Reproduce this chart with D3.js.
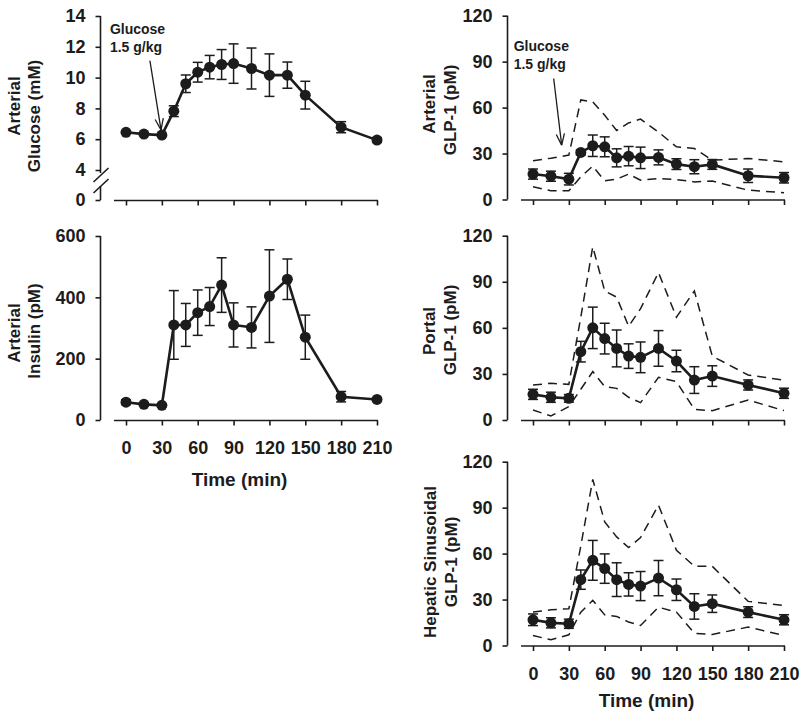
<html>
<title>Glucose, insulin and GLP-1</title>
<script src="https://d3js.org/d3.v7.min.js"></script>
<style>
	body { margin: 0; background: #fff; }
	text { font-family: "Liberation Sans", Arial, Helvetica, sans-serif; font-weight: bold; fill: #1c1c1c; }
	.tick text { font-size: 18px; }
	.tick line, .axisline { stroke: #1c1c1c; stroke-width: 1.6; }
	.mean { fill: none; stroke: #1c1c1c; stroke-width: 2.6; }
	.band { fill: none; stroke: #1c1c1c; stroke-width: 1.5; stroke-dasharray: 9,6; }
	.err { stroke: #1c1c1c; stroke-width: 1.5; }
	.dot { fill: #1c1c1c; }
</style>
<body>
<svg id="container" width=800 height=714></svg>
<script>
// sampling times (min)
var times = [0, 15, 30, 40, 50, 60, 70, 80, 90, 105, 120, 135, 150, 180, 210];
var xTicks = [0, 30, 60, 90, 120, 150, 180, 210];

// arterial glucose (mM)
var glucoseMean = [6.45, 6.33, 6.27, 7.82, 9.6, 10.35, 10.68, 10.85, 10.91, 10.59, 10.16, 10.16, 8.86, 6.78, 5.94];
var glucoseErr  = [0.1, 0.08, 0.08, 0.35, 0.57, 0.64, 0.76, 0.97, 1.28, 1.33, 1.38, 0.85, 0.9, 0.36, 0.15];

// arterial insulin (pM)
var insulinMean = [58, 51, 48, 310, 310, 350, 370, 440, 310, 302, 404, 459, 270, 76, 67];
var insulinErr  = [8, 5, 5, 112, 70, 74, 62, 89, 72, 67, 151, 66, 72, 17, 5];

// arterial GLP-1 (pM)
var artMean = [16.6, 15.2, 13.3, 30.7, 35.1, 34.4, 27.2, 28.3, 27.2, 27.5, 23.1, 21.4, 22.9, 15.5, 14.2];
var artErr  = [3.3, 3.3, 3.8, 1.6, 7, 6.5, 5.9, 6.3, 7, 4.9, 3.5, 4.6, 3.2, 4.4, 3.4];
var artHi   = [25.3, 27, 29, 65, 63.8, 55, 45, 50, 52.5, 44, 34.4, 33.3, 25.7, 26.8, 24.6];
var artLo   = [8.3, 5.7, 5.7, 14.8, 21.8, 12.2, 13.3, 16.6, 12.6, 13.7, 13, 11.5, 12, 6.1, 4.4];

// portal GLP-1 (pM)
var portMean = [16.7, 14.8, 14.1, 44.5, 60, 53, 46.6, 41.6, 40.8, 46.6, 38.4, 26, 28.6, 22.8, 17.4];
var portErr  = [3.3, 3.3, 2.5, 6.7, 13.5, 10, 12, 8, 10, 11.6, 7, 8.7, 6.7, 3.3, 3.3];
var portHi   = [22.8, 23.9, 23.2, 67, 112.8, 84, 80, 61, 72.5, 96, 67, 84, 41.6, 29.3, 26];
var portLo   = [6.5, 2.6, 8.7, 20, 31.5, 21.7, 20.6, 14.8, 11.3, 27.8, 25, 6.9, 6.1, 13, 6.1];

// hepatic sinusoidal GLP-1 (pM)
var hepMean = [16.8, 14.8, 14.2, 43, 55.6, 50.2, 43, 39.9, 38.8, 44, 36.4, 25.5, 27.3, 21.8, 16.8];
var hepErr  = [3.8, 3.3, 3, 6.3, 13, 9.6, 11, 7.6, 9.5, 11.5, 7, 8.3, 5.7, 3.5, 3.3];
var hepHi   = [21.8, 23.3, 24, 65, 108.4, 80.7, 70.9, 63.9, 70.5, 91.6, 62.2, 51.7, 51.7, 28.8, 26.2];
var hepLo   = [6.5, 3.7, 7, 21.8, 29.5, 20, 19, 15.3, 13.1, 25, 21.8, 8, 7.2, 12, 6.5];

// arrow annotations: [time, value] of start and tip
var glucoseArrow = [[20, 11.1], [29.3, 6.6]];
var glpArrow = [[17.3, 79], [24, 35.5]];

var svg = d3.select("svg");

var xLeft = d3.scaleLinear().domain([0, 210]).range([126, 377]);
var xRight = d3.scaleLinear().domain([0, 210]).range([533, 784]);

var panels = [
	{ x: xLeft, y: d3.scaleLinear().domain([0, 4, 14]).range([200, 170, 16]),
	  yTicks: [0, 4, 6, 8, 10, 12, 14], mean: glucoseMean, err: glucoseErr,
	  label: ["Arterial", "Glucose (mM)"], labelX: [20, 40], labelY: [106, 116],
	  broken: true, arrow: glucoseArrow },
	{ x: xLeft, y: d3.scaleLinear().domain([0, 600]).range([420, 236]),
	  yTicks: [0, 200, 400, 600], mean: insulinMean, err: insulinErr,
	  label: ["Arterial", "Insulin (pM)"], labelX: [20, 40], labelY: [333, 331],
	  xLabels: true, timeDy: 66 },
	{ x: xRight, y: d3.scaleLinear().domain([0, 120]).range([199.5, 15.7]),
	  yTicks: [0, 30, 60, 90, 120], mean: artMean, err: artErr, hi: artHi, lo: artLo,
	  label: ["Arterial", "GLP-1 (pM)"], labelX: [435, 456], labelY: [104, 110],
	  arrow: glpArrow },
	{ x: xRight, y: d3.scaleLinear().domain([0, 120]).range([420, 235.7]),
	  yTicks: [0, 30, 60, 90, 120], mean: portMean, err: portErr, hi: portHi, lo: portLo,
	  label: ["Portal", "GLP-1 (pM)"], labelX: [435, 456], labelY: [331, 330] },
	{ x: xRight, y: d3.scaleLinear().domain([0, 120]).range([645.5, 461.7]),
	  yTicks: [0, 30, 60, 90, 120], mean: hepMean, err: hepErr, hi: hepHi, lo: hepLo,
	  label: ["Hepatic Sinusoidal", "GLP-1 (pM)"], labelX: [436, 457], labelY: [562, 562],
	  xLabels: true, timeDy: 61 }
];

panels.forEach(function(p) {
	var x = p.x, y = p.y;
	var g = svg.append("g");
	var axisX = x.range()[0] - 25.5;
	var y0 = y(0);

	// y axis
	var ya = g.append("g")
		.attr("transform", "translate(" + axisX + ",0)")
		.call(d3.axisLeft(y).tickValues(p.yTicks).tickSize(5).tickPadding(10).tickSizeOuter(0));
	ya.select(".domain").remove();
	var yTop = y(p.yTicks[p.yTicks.length - 1]);
	if (p.broken) {
		var b = y(4);
		g.append("line").attr("class", "axisline")
			.attr("x1", axisX).attr("x2", axisX).attr("y1", yTop).attr("y2", b + 3);
		g.append("line").attr("class", "axisline")
			.attr("x1", axisX).attr("x2", axisX).attr("y1", b + 16).attr("y2", y0);
		[b + 5, b + 16].forEach(function(c) {
			g.append("line").attr("class", "axisline")
				.attr("x1", axisX - 7).attr("x2", axisX + 8)
				.attr("y1", c + 7).attr("y2", c - 7);
		});
	} else {
		g.append("line").attr("class", "axisline")
			.attr("x1", axisX).attr("x2", axisX).attr("y1", yTop).attr("y2", y0);
	}

	// x axis
	var xa = g.append("g")
		.attr("transform", "translate(0," + (y0 + 0.5) + ")")
		.call(d3.axisBottom(x).tickValues(xTicks).tickSize(5).tickPadding(16).tickSizeOuter(0)
			.tickFormat(p.xLabels ? d3.format("d") : ""));
	xa.select(".domain").remove();
	xa.append("line").attr("class", "axisline")
		.attr("x1", x(0) - 12).attr("x2", x(210) + 1).attr("y1", 0).attr("y2", 0);
	if (p.xLabels) {
		g.append("text")
			.attr("x", (x(0) + x(210)) / 2 - 12)
			.attr("y", y0 + p.timeDy)
			.attr("text-anchor", "middle")
			.style("font-size", "19px")
			.text("Time (min)");
	}

	// y label
	p.label.forEach(function(t, i) {
		g.append("text")
			.attr("transform", "translate(" + p.labelX[i] + "," + p.labelY[i] + ") rotate(-90)")
			.attr("text-anchor", "middle")
			.style("font-size", "17px")
			.text(t);
	});

	// dashed range lines
	if (p.hi) {
		[p.hi, p.lo].forEach(function(arr) {
			g.append("path").attr("class", "band")
				.attr("d", d3.line().x(function(d, i) { return x(times[i]); })
					.y(function(d) { return y(d); })(arr));
		});
	}

	// mean line
	g.append("path").attr("class", "mean")
		.attr("d", d3.line().x(function(d, i) { return x(times[i]); })
			.y(function(d) { return y(d); })(p.mean));

	// error bars
	var eb = g.selectAll(".eb").data(p.mean).enter().append("g");
	eb.append("line").attr("class", "err")
		.attr("x1", function(d, i) { return x(times[i]); })
		.attr("x2", function(d, i) { return x(times[i]); })
		.attr("y1", function(d, i) { return y(d - p.err[i]); })
		.attr("y2", function(d, i) { return y(d + p.err[i]); });
	[-1, 1].forEach(function(s) {
		eb.append("line").attr("class", "err")
			.attr("x1", function(d, i) { return x(times[i]) - 5; })
			.attr("x2", function(d, i) { return x(times[i]) + 5; })
			.attr("y1", function(d, i) { return y(d + s * p.err[i]); })
			.attr("y2", function(d, i) { return y(d + s * p.err[i]); });
	});

	// points
	g.selectAll(".dot").data(p.mean).enter().append("circle")
		.attr("class", "dot")
		.attr("cx", function(d, i) { return x(times[i]); })
		.attr("cy", function(d) { return y(d); })
		.attr("r", 5.5);

	// glucose arrow
	if (p.arrow) {
		var x1 = x(p.arrow[0][0]), y1 = y(p.arrow[0][1]);
		var x2 = x(p.arrow[1][0]), y2 = y(p.arrow[1][1]);
		var ang = Math.atan2(y2 - y1, x2 - x1);
		g.append("line").attr("class", "axisline").style("stroke-width", 1.3)
			.attr("x1", x1).attr("y1", y1).attr("x2", x2).attr("y2", y2);
		[0.35, -0.35].forEach(function(a) {
			g.append("line").attr("class", "axisline").style("stroke-width", 1.3)
				.attr("x1", x2).attr("y1", y2)
				.attr("x2", x2 - 12 * Math.cos(ang + a))
				.attr("y2", y2 - 12 * Math.sin(ang + a));
		});
		g.append("text").attr("x", x1 - 40).attr("y", y1 - 27)
			.style("font-size", "14px").text("Glucose");
		g.append("text").attr("x", x1 - 40).attr("y", y1 - 9)
			.style("font-size", "14px").text("1.5 g/kg");
	}
});
</script>
</body>
</html>
